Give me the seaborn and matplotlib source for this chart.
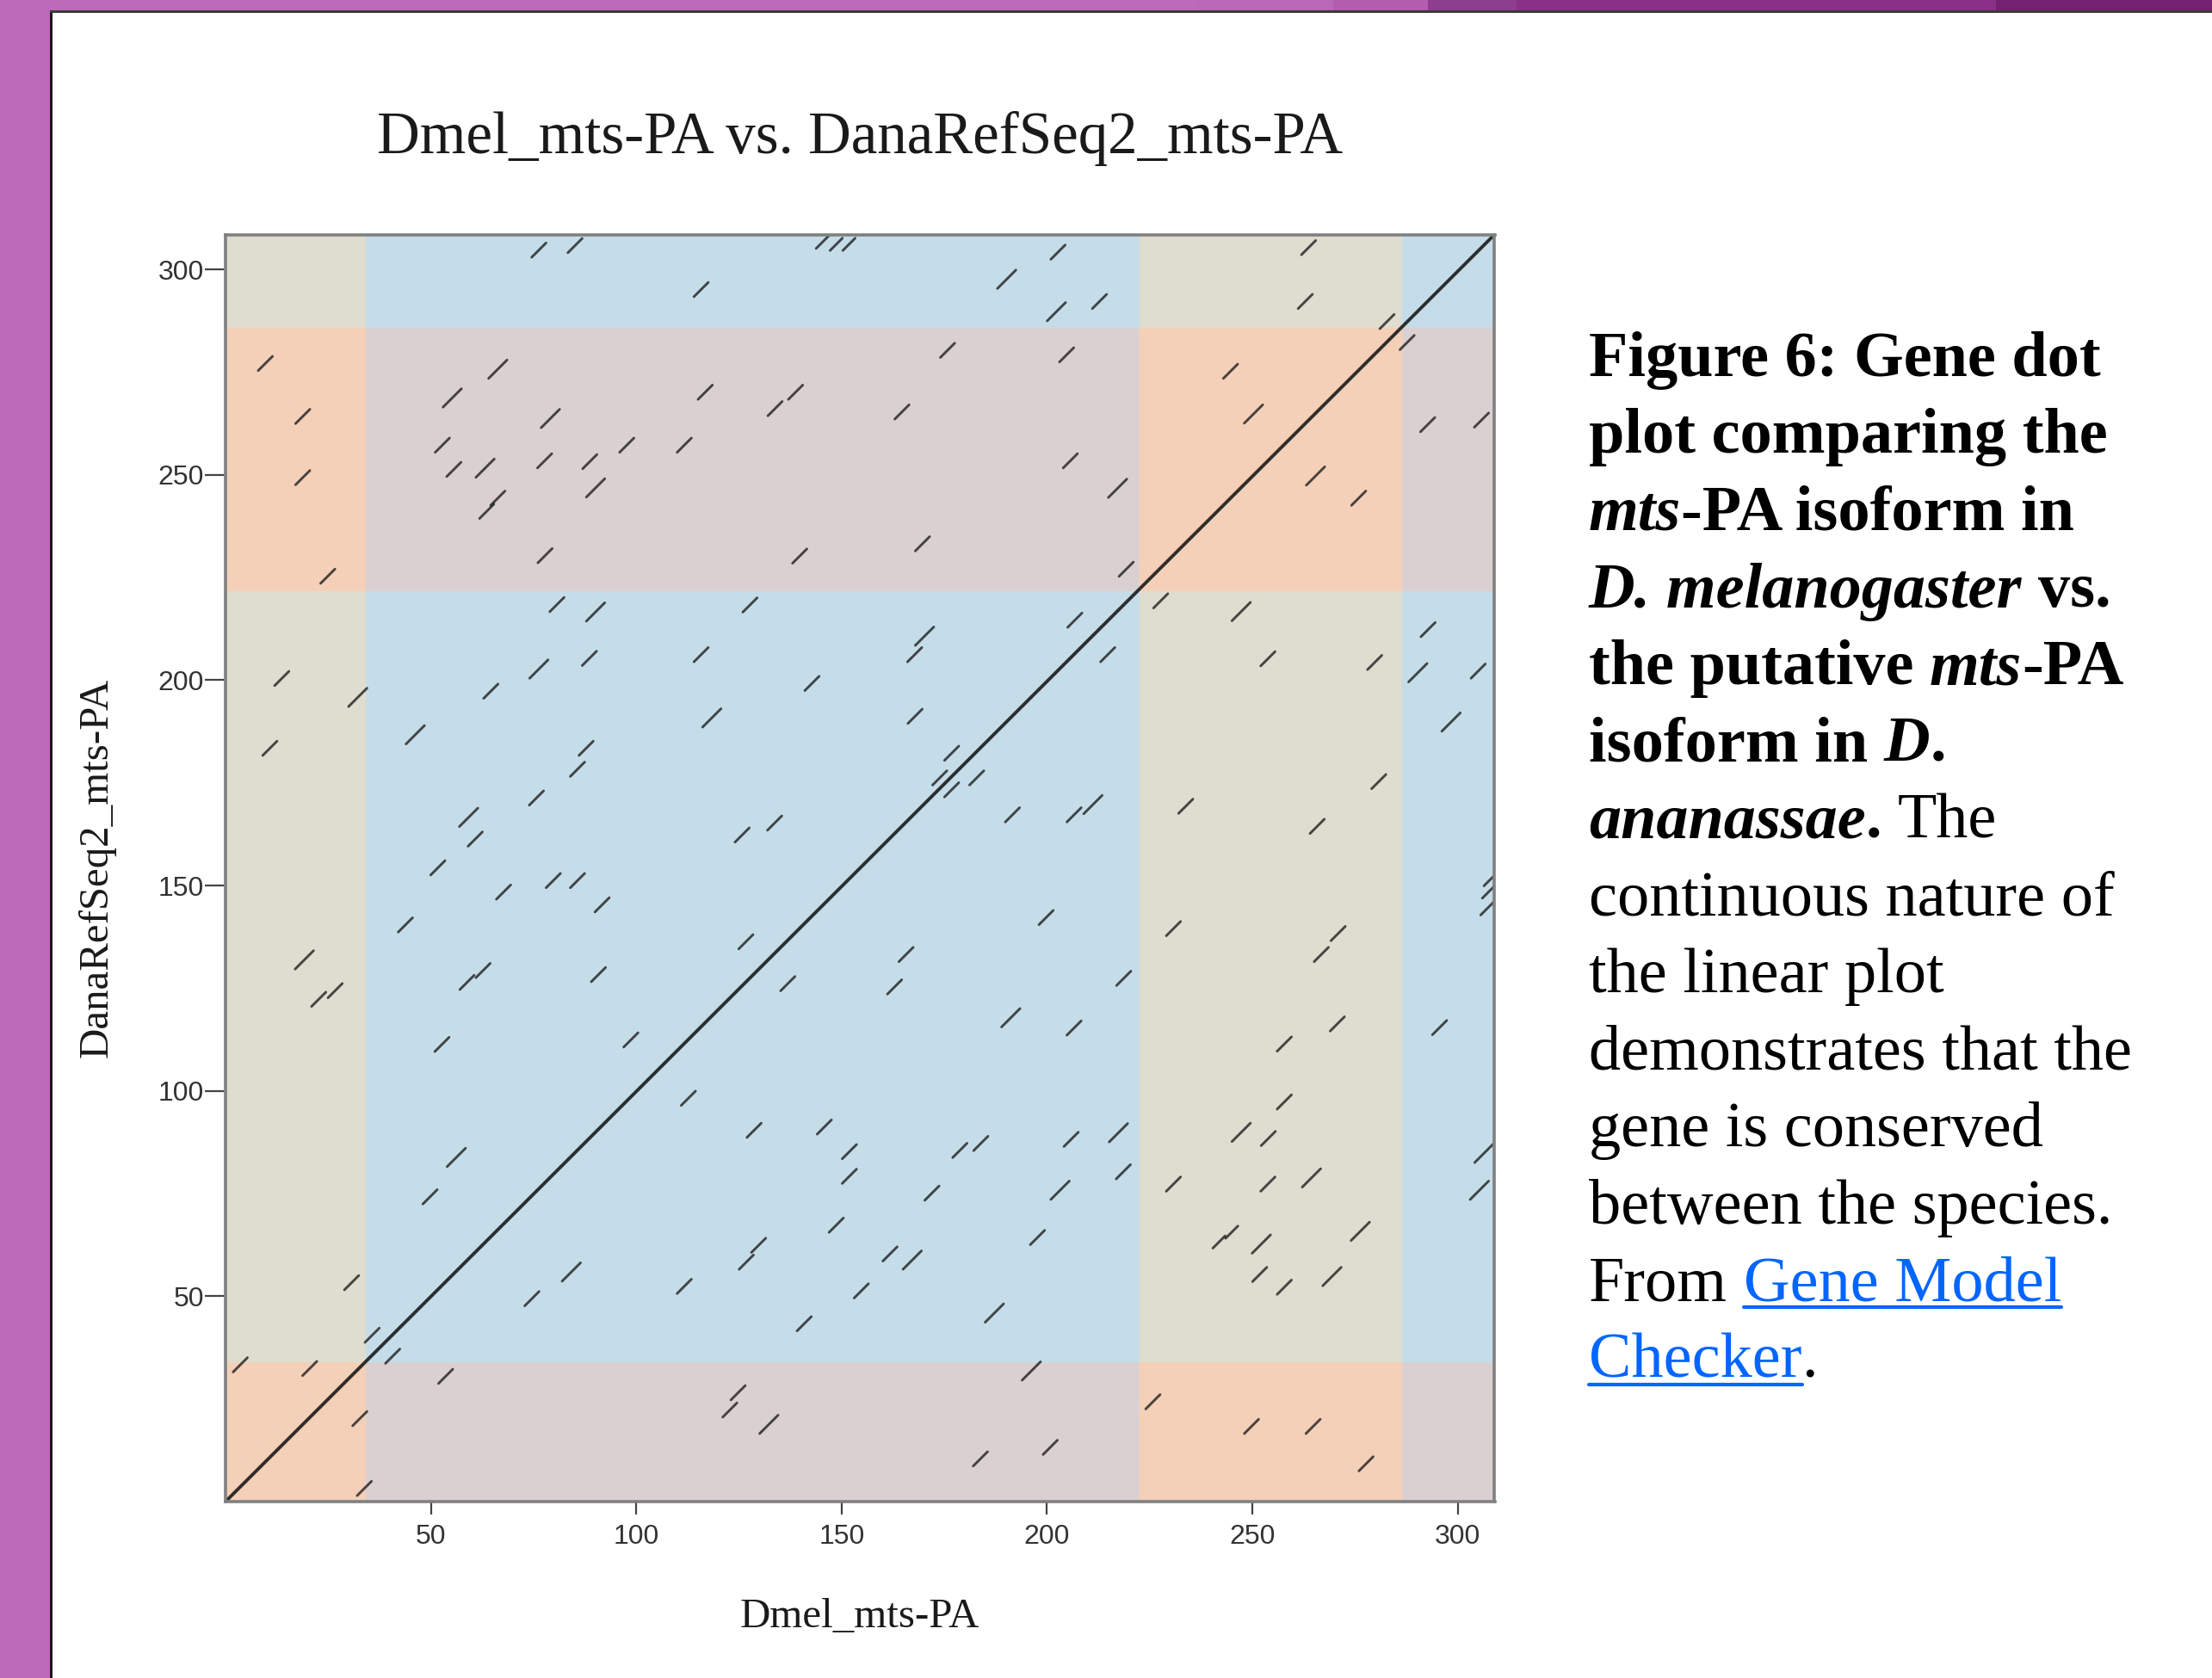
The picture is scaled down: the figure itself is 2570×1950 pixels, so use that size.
import numpy as np
import pandas as pd
import matplotlib
matplotlib.use("Agg")
import matplotlib.pyplot as plt
import seaborn as sns
from matplotlib.patches import Rectangle
from matplotlib.lines import Line2D
from matplotlib.transforms import IdentityTransform

# %% data --------------------------------------------------------------
title = "Dmel_mts-PA vs. DanaRefSeq2_mts-PA"
x_name = "Dmel_mts-PA"
y_name = "DanaRefSeq2_mts-PA"

dmel_len = 309.0
dana_len = 308.5
dmel_exon_ends = [34.2, 222.5, 286.4, 309.0]
dana_exon_ends = [33.9, 221.7, 285.8, 308.5]
ticks = [50, 100, 150, 200, 250, 300]

# short matching segments: centre on Dmel axis, centre on Dana axis, length
seg_x = [76.3, 85.1, 145.3, 148.7, 151.8, 202.7, 115.8, 190.2, 202.3, 212.8, 263.7, 262.9, 282.8,
         9.7, 18.8, 18.8, 24.9, 66.3, 55.2, 79.1, 52.8, 55.6, 63.2, 77.7, 88.7, 97.7, 90.1, 66.3, 63.6, 77.8,
         175.8, 204.8, 116.8, 138.8, 133.8, 164.7, 111.7, 205.7, 217.2, 139.8, 169.7, 219.3,
         287.7, 244.7, 250.3, 292.7, 305.8, 265.4, 275.9,
         13.7, 32.2, 10.8, 19.2, 22.7, 26.7, 30.7,
         80.7, 90.1, 127.7, 170.2, 206.8, 76.3, 88.6, 64.6, 46.2, 87.8, 85.7, 75.7, 59.2, 60.8, 51.7,
         67.7, 79.8, 85.7, 91.7, 43.8, 58.8, 62.7, 90.8, 52.7, 98.7, 56.2, 49.8, 84.2, 74.6, 35.7, 40.7,
         167.8, 115.8, 142.8, 118.4, 167.9, 214.8, 176.8, 173.9, 176.8, 182.9,
         191.6, 206.6, 211.2, 125.8, 133.7, 199.8, 126.7, 165.7, 136.9, 162.9,
         191.2, 206.6, 218.7, 112.7, 128.7, 145.8, 151.9, 151.9, 178.8, 183.9,
         205.9, 217.4, 172.0, 203.2, 218.6, 148.7, 129.8, 126.8, 111.7, 161.8,
         167.2, 154.8, 140.9, 197.7, 187.2,
         227.7, 247.3, 253.8, 279.8, 280.8, 233.8, 265.8, 230.8, 270.9, 266.8,
         270.7, 257.8, 257.8, 247.3, 253.9, 230.8, 253.8, 264.4, 241.9, 245.0,
         252.2, 276.3, 251.8, 257.8, 269.4,
         292.8, 290.3, 305.0, 298.4, 307.9, 307.5, 307.6, 295.6, 306.4, 305.3,
         3.6, 20.5, 32.7, 33.8, 53.6, 124.8, 122.8, 132.3, 196.2, 183.8, 200.8, 225.8, 249.8, 264.8, 277.7]
seg_y = [304.7, 305.8, 306.6, 306.1, 306.1, 304.2, 295.1, 297.6, 289.7, 292.2, 305.3, 292.2, 287.3,
         277.1, 264.2, 249.3, 225.3, 275.7, 268.7, 263.7, 257.2, 251.3, 251.6, 253.4, 253.2, 257.2, 246.8, 244.3, 241.1, 230.3,
         280.3, 279.2, 270.1, 270.1, 266.1, 265.3, 257.2, 253.4, 246.7, 230.2, 233.2, 227.0,
         282.2, 275.2, 264.8, 262.2, 263.3, 249.7, 244.3,
         200.4, 195.8, 183.4, 131.9, 122.3, 124.4, 53.3,
         218.4, 216.6, 218.3, 210.7, 214.6, 202.7, 205.3, 197.3, 186.7, 183.4, 178.3, 171.3, 166.6, 161.3, 154.3,
         148.4, 151.2, 151.2, 145.3, 140.4, 126.4, 129.3, 128.3, 111.3, 112.4, 83.8, 74.2, 55.9, 49.4, 40.5, 35.4,
         206.2, 206.2, 199.2, 190.8, 191.2, 206.2, 182.2, 176.2, 173.3, 176.2,
         167.2, 167.2, 169.7, 162.3, 165.2, 142.2, 136.3, 133.2, 126.1, 125.3,
         117.8, 115.3, 127.4, 98.2, 90.4, 91.2, 85.2, 79.2, 85.5, 87.2,
         88.2, 89.8, 75.1, 75.8, 80.3, 67.3, 62.4, 58.3, 52.4, 60.3,
         58.8, 51.3, 43.3, 64.3, 45.9,
         219.3, 216.7, 205.2, 204.3, 175.3, 169.3, 164.4, 139.5, 138.3, 133.2,
         116.3, 111.4, 97.3, 89.9, 88.4, 77.3, 77.3, 78.8, 63.2, 65.6,
         62.7, 65.8, 55.3, 52.2, 54.8,
         212.3, 201.8, 202.2, 189.8, 151.4, 148.4, 144.8, 115.4, 84.8, 75.8,
         33.3, 32.4, 20.2, 3.2, 30.5, 26.5, 22.3, 18.8, 31.8, 10.4, 13.2, 24.3, 18.3, 18.3, 9.2]
seg_len = [3.5, 3.5, 3.0, 3.0, 3.0, 3.5, 3.5, 4.5, 4.5, 3.5, 3.5, 3.5, 3.5,
           3.5, 3.5, 3.5, 3.5, 4.5, 4.5, 4.5, 3.5, 3.5, 4.5, 3.5, 3.5, 3.5, 4.5, 3.5, 3.5, 3.5,
           3.5, 3.5, 3.5, 3.5, 3.5, 3.5, 3.5, 3.5, 4.5, 3.5, 3.5, 3.5,
           3.5, 3.5, 4.5, 3.5, 3.5, 4.5, 3.5,
           3.5, 4.5, 3.5, 4.5, 3.5, 3.5, 3.5,
           3.5, 4.5, 3.5, 4.5, 3.5, 4.5, 3.5, 3.5, 4.5, 3.5, 3.5, 3.5, 4.5, 3.5, 3.5,
           3.5, 3.5, 3.5, 3.5, 3.5, 3.5, 3.5, 3.5, 3.5, 3.5, 4.5, 3.5, 4.5, 3.5, 3.5, 3.5,
           3.5, 3.5, 3.5, 4.5, 3.5, 3.5, 3.5, 3.5, 3.5, 3.5,
           3.5, 3.5, 4.5, 3.5, 3.5, 3.5, 3.5, 3.5, 3.5, 3.5,
           4.5, 3.5, 3.5, 3.5, 3.5, 3.5, 3.5, 3.5, 3.5, 3.5,
           3.5, 4.5, 3.5, 4.5, 3.5, 3.5, 3.5, 3.5, 3.5, 3.5,
           4.5, 3.5, 3.5, 3.5, 4.5,
           3.5, 4.5, 3.5, 3.5, 3.5, 3.5, 3.5, 3.5, 3.5, 3.5,
           3.5, 3.5, 3.5, 4.5, 3.5, 3.5, 3.5, 4.5, 3.0, 3.0,
           4.5, 4.5, 3.5, 3.5, 4.5,
           3.5, 4.5, 3.5, 4.5, 3.0, 3.0, 4.0, 3.5, 4.5, 4.5,
           3.5, 3.5, 3.5, 3.5, 3.5, 3.5, 3.5, 4.5, 4.5, 3.5, 3.5, 3.5, 3.5, 3.5, 3.5]

caption = [
    [("Figure 6: Gene dot", "b")],
    [("plot comparing the", "b")],
    [("mts", "bi"), ("-PA isoform in", "b")],
    [("D. melanogaster", "bi"), (" vs.", "b")],
    [("the putative ", "b"), ("mts", "bi"), ("-PA", "b")],
    [("isoform in ", "b"), ("D", "bi"), (".", "b")],
    [("ananassae", "bi"), (".", "b"), (" The", "r")],
    [("continuous nature of", "r")],
    [("the linear plot", "r")],
    [("demonstrates that the", "r")],
    [("gene is conserved", "r")],
    [("between the species.", "r")],
    [("From ", "r"), ("Gene Model", "link")],
    [("Checker", "link"), (".", "r")],
]

# %% styling -----------------------------------------------------------
W, H, DPI = 2570, 1950, 100
# cell colours: [x exon parity][y exon parity]
cell_colors = [["#F4D0B9", "#DFDCD0"],
               ["#DBD0D1", "#C5DDE8"]]
link_color = "#0066ff"

sns.set_style("ticks")
plt.rcParams["font.family"] = ["Liberation Serif", "DejaVu Serif"]

fig = plt.figure(figsize=(W / DPI, H / DPI), dpi=DPI, facecolor="white")

# slide chrome (purple frame)
fig.add_artist(Rectangle((0, 0), 58 / W, 1, transform=fig.transFigure, color="#BC6BB8", lw=0, zorder=0))
for x0, x1, c in [(0, 1390, "#BC6BB8"), (1390, 1549, "#B968B5"), (1549, 1659, "#B35DAE"),
                  (1659, 1762, "#8E3E8E"), (1762, 2319, "#8A3087"), (2319, 2570, "#72226F")]:
    fig.add_artist(Rectangle((x0 / W, 1 - 12 / H), (x1 - x0) / W, 12 / H,
                             transform=fig.transFigure, color=c, lw=0, zorder=0))
fig.add_artist(Rectangle((58 / W, 0), 2.5 / W, 1 - 12 / H, transform=fig.transFigure,
                         color="#1a1a1a", lw=0, zorder=1))
fig.add_artist(Rectangle((58 / W, 1 - 15 / H), 1 - 58 / W, 3 / H, transform=fig.transFigure,
                         color="#3a3a3a", lw=0, zorder=1))

ax = fig.add_axes([262 / W, (H - 1745) / H, 1474.5 / W, 1472.5 / H])

# exon shading
xb = [0] + dmel_exon_ends
yb = [0] + dana_exon_ends
for i in range(len(xb) - 1):
    for j in range(len(yb) - 1):
        ax.add_patch(Rectangle((xb[i], yb[j]), xb[i + 1] - xb[i], yb[j + 1] - yb[j],
                               facecolor=cell_colors[i % 2][j % 2], lw=0, zorder=0))

# matching segments
sx, sy, half = np.array(seg_x), np.array(seg_y), np.array(seg_len) / 2
segs = pd.DataFrame({
    "seg": np.repeat(np.arange(len(sx)), 2),
    "dmel": np.column_stack([sx - half, sx + half]).ravel(),
    "dana": np.column_stack([sy - half, sy + half]).ravel(),
})
sns.lineplot(data=segs, x="dmel", y="dana", units="seg", estimator=None, sort=False,
             color="#1a1a1a", alpha=0.78, lw=2.1, ax=ax, zorder=3, legend=False)

diag = pd.DataFrame({"dmel": [0, dmel_len], "dana": [0, dana_len]})
sns.lineplot(data=diag, x="dmel", y="dana", sort=False, color="#101010", alpha=0.85,
             lw=2.8, ax=ax, zorder=4, legend=False)

ax.set_xlim(0, dmel_len)
ax.set_ylim(0, dana_len)
ax.set_xticks(ticks)
ax.set_yticks(ticks)
for sp in ax.spines.values():
    sp.set_color("#808080")
    sp.set_linewidth(2.6)
    sp.set_zorder(5)
ax.tick_params(axis="x", length=11, width=1.6, color="#444444", pad=8,
               labelsize=23, labelcolor="#333333")
ax.tick_params(axis="y", length=17, width=1.6, color="#444444", pad=1,
               labelsize=23, labelcolor="#333333")
for lab in ax.get_xticklabels() + ax.get_yticklabels():
    lab.set_family("Liberation Sans")

ax.set_xlabel(x_name, fontsize=35.2, color="#1a1a1a")
ax.set_ylabel(y_name, fontsize=35.2, color="#1a1a1a")
ax.xaxis.set_label_coords(0.5, (1745 - 1891) / 1472.5)
ax.xaxis.label.set_va("baseline")
ax.yaxis.set_label_coords((113 - 262) / 1474.5, 0.5)
ax.yaxis.label.set_va("center")

fig.text(999 / W, 1 - 178 / H, title, ha="center", va="baseline", fontsize=49.6, color="#1a1a1a")

# %% caption -----------------------------------------------------------
cap_size = 53.5
base = dict(family="Liberation Serif", size=cap_size, color="black")
styles = {
    "b": dict(base, weight="bold"),
    "bi": dict(base, weight="bold", style="italic"),
    "r": dict(base, weight="normal"),
    "link": dict(base, weight="normal", color=link_color),
}
renderer = fig.canvas.get_renderer()


def text_width(s, st):
    t = fig.text(0, 0, s, transform=IdentityTransform(), **styles[st])
    w = t.get_window_extent(renderer).width
    t.remove()
    return w


def advance(s, st):
    return text_width("|" + s + "|", st) - text_width("||", st)


left = 1846
for k, line in enumerate(caption):
    yb_px = H - (437 + 89.5 * k)
    x = left
    for s, st in line:
        lead = s[: len(s) - len(s.lstrip(" "))]
        x_draw = x + (advance(lead, st) if lead else 0)
        t = fig.text(x_draw, yb_px, s.strip(), transform=IdentityTransform(),
                     ha="left", va="baseline", **styles[st])
        if st == "link":
            bb = t.get_window_extent(renderer)
            fig.add_artist(Line2D([bb.x0, bb.x1], [yb_px - 8, yb_px - 8],
                                  transform=IdentityTransform(), color=link_color, lw=3))
        x += advance(s, st)

fig.savefig("out.png", dpi=DPI, facecolor="white")
